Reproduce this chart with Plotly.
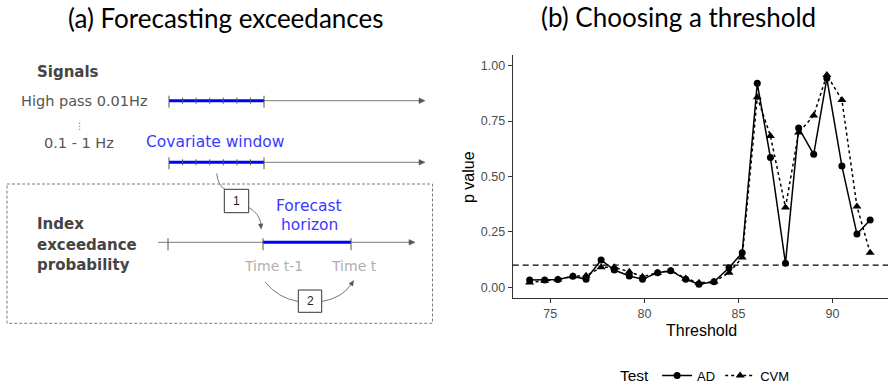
import math
import plotly.graph_objects as go

# ---------------- data (panel b) ----------------
thresholds = [73.9, 74.7, 75.4, 76.2, 76.9, 77.7, 78.4, 79.2, 79.9, 80.7, 81.4, 82.2, 82.9,
              83.7, 84.5, 85.2, 86.0, 86.7, 87.5, 88.2, 89.0, 89.7, 90.5, 91.3, 92.0]
p_ad = [0.033, 0.033, 0.035, 0.050, 0.036, 0.123, 0.078, 0.051, 0.036, 0.066, 0.075, 0.036, 0.014,
        0.025, 0.088, 0.156, 0.920, 0.585, 0.108, 0.719, 0.600, 0.943, 0.547, 0.240, 0.304]
p_cvm = [0.022, 0.030, 0.035, 0.050, 0.052, 0.090, 0.090, 0.070, 0.048, 0.066, 0.075, 0.040, 0.020,
         0.025, 0.066, 0.134, 0.857, 0.683, 0.360, 0.698, 0.775, 0.958, 0.845, 0.364, 0.156]
alpha_level = 0.10
x_ticks = [75, 80, 85, 90]
y_ticks = [0.0, 0.25, 0.5, 0.75, 1.0]
y_tick_labels = ["0.00", "0.25", "0.50", "0.75", "1.00"]

TITLE_FONT = "Lato"
DIAG_FONT = "DejaVu Sans"
AX_FONT = "Liberation Sans"
GREY = "#7a7a7a"
BLUE = "#0000ff"
TXT_BLUE = "#3a3aff"

fig = go.Figure()

fig.add_trace(go.Scatter(
    x=thresholds, y=p_ad, name="AD", mode="lines+markers",
    line=dict(color="black", width=1.5),
    marker=dict(symbol="circle", size=7, color="black"),
    xaxis="x", yaxis="y"))
fig.add_trace(go.Scatter(
    x=thresholds, y=p_cvm, name="CVM", mode="lines+markers",
    line=dict(color="black", width=1.5, dash="3px,3px"),
    marker=dict(symbol="triangle-up", size=8, color="black"),
    xaxis="x", yaxis="y"))

shapes = []
annotations = []

# threshold reference line
shapes.append(dict(type="line", xref="x domain", yref="y", x0=0, x1=1,
                   y0=alpha_level, y1=alpha_level,
                   line=dict(color="black", width=1.3, dash="6px,4px")))

# ---------------- diagram (panel a), drawn in pixel-like hidden axes ----------------
def dline(x0, y0, x1, y1, color=GREY, width=1, dash=None):
    ln = dict(color=color, width=width)
    if dash:
        ln["dash"] = dash
    shapes.append(dict(type="line", xref="x2", yref="y2", x0=x0, y0=y0, x1=x1, y1=y1,
                       line=ln, layer="above"))

def dpath(path, color=GREY, width=1, fill=None):
    s = dict(type="path", xref="x2", yref="y2", path=path,
             line=dict(color=color, width=width), layer="above")
    if fill:
        s["fillcolor"] = fill
    shapes.append(s)

def arrowhead(x, y, dx, dy, size=5, color="#555"):
    n = math.hypot(dx, dy)
    ux, uy = dx / n, dy / n
    px, py = -uy, ux
    bx, by = x - ux * size, y - uy * size
    w = size * 0.45
    dpath(f"M {x},{y} L {bx + px * w},{by + py * w} L {bx - px * w},{by - py * w} Z",
          color=color, width=0.5, fill=color)

def dtext(x, y, text, size=14, color="#555", xanchor="center", bold=False, font=DIAG_FONT):
    if bold:
        text = "<b>" + text + "</b>"
    annotations.append(dict(xref="x2", yref="y2", x=x, y=y, text=text, showarrow=False,
                            xanchor=xanchor, yanchor="middle", borderpad=0,
                            font=dict(family=font, size=size, color=color)))

# signal lines with covariate windows
for yy in (100.7, 162.3):
    dline(169, yy, 420, yy, width=1)
    arrowhead(425, yy, 1, 0, size=6)
    dline(169, yy, 264, yy, color=BLUE, width=3)
    for k in range(1, 7):
        xx = 169 + k * (264 - 169) / 7
        dline(xx, yy - 3, xx, yy + 3, color="#555", width=1)
    for xx in (169, 264):
        dline(xx, yy - 5, xx, yy + 7, color="#555", width=1)

# dashed box
shapes.append(dict(type="rect", xref="x2", yref="y2", x0=7, y0=184, x1=432.5, y1=323.3,
                   line=dict(color=GREY, width=1, dash="3px,2px")))

# index line
yy3 = 242.3
dline(158, yy3, 410, yy3, width=1)
arrowhead(415, yy3, 1, 0, size=6)
dline(263, yy3, 351, yy3, color=BLUE, width=3)
for xx in (168, 263, 351):
    dline(xx, yy3 - 4, xx, yy3 + 8, color="#555", width=1)

# curved connector 1
dpath("M 216.7,173.5 Q 218,186 226,190", color=GREY, width=1)
dpath("M 248.7,207.5 Q 259,213 261,224", color=GREY, width=1)
arrowhead(261.2, 229, 0.1, 1, size=5)
shapes.append(dict(type="rect", xref="x2", yref="y2", x0=224.3, y0=189.3, x1=248.7, y1=212.7,
                   line=dict(color="#333", width=1), fillcolor="white", layer="above"))
dtext(236.5, 201, "1", size=12, color="#222", font=AX_FONT)

# curved connector 2
dpath("M 265,282 Q 278,298 298.3,301.5", color=GREY, width=1)
dpath("M 321.7,301.5 Q 342,298 350.5,285", color=GREY, width=1)
arrowhead(353.5, 280.5, 0.6, -1, size=5)
shapes.append(dict(type="rect", xref="x2", yref="y2", x0=298.3, y0=290, x1=321.7, y1=312.3,
                   line=dict(color="#333", width=1), fillcolor="white", layer="above"))
dtext(310, 301, "2", size=12, color="#222", font=AX_FONT)

# diagram texts
dtext(36, 72, "Signals", size=15, color="#444", xanchor="left", bold=True)
dtext(149, 100.5, "High pass 0.01Hz", size=14.5, color="#555", xanchor="right")
dtext(79, 126, "⋮", size=9, color="#777")
dtext(115, 143, "0.1 - 1 Hz", size=14.5, color="#555", xanchor="right")
dtext(145, 142, "Covariate window", size=15.5, color=TXT_BLUE, xanchor="left")
dtext(309, 206, "Forecast", size=15.5, color=TXT_BLUE)
dtext(309, 225, "horizon", size=15.5, color=TXT_BLUE)
dtext(36, 224, "Index", size=15, color="#444", xanchor="left", bold=True)
dtext(36, 244.5, "exceedance", size=15, color="#444", xanchor="left", bold=True)
dtext(36, 265, "probability", size=15, color="#444", xanchor="left", bold=True)
dtext(273, 265.5, "Time t-1", size=14, color="#b0b0b0")
dtext(354, 265.5, "Time t", size=14, color="#b0b0b0")

# panel titles
annotations.append(dict(xref="paper", yref="paper", x=226 / 888, y=1 - 18 / 386,
                        text="(a) Forecasting exceedances", showarrow=False,
                        xanchor="center", yanchor="middle",
                        font=dict(family=TITLE_FONT, size=26, color="black")))
annotations.append(dict(xref="paper", yref="paper", x=678 / 888, y=1 - 17 / 386,
                        text="(b) Choosing a threshold", showarrow=False,
                        xanchor="center", yanchor="middle",
                        font=dict(family=TITLE_FONT, size=26, color="black")))

# axis titles of panel b
annotations.append(dict(xref="paper", yref="paper", x=701 / 888, y=1 - 330 / 386,
                        text="Threshold", showarrow=False, xanchor="center", yanchor="middle",
                        font=dict(family=AX_FONT, size=16, color="black")))
annotations.append(dict(xref="paper", yref="paper", x=468 / 888, y=1 - 177 / 386,
                        text="p value", showarrow=False, xanchor="center", yanchor="middle",
                        textangle=-90,
                        font=dict(family=AX_FONT, size=16, color="black")))

fig.update_layout(
    width=888, height=386,
    margin=dict(l=0, r=0, t=0, b=0, autoexpand=False),
    paper_bgcolor="white", plot_bgcolor="white",
    shapes=shapes, annotations=annotations,
    xaxis=dict(domain=[512.7 / 888, 1.0], range=[73.0, 92.95], automargin=False,
               tickvals=x_ticks, ticks="outside", ticklen=4, tickcolor="#333",
               showline=True, linecolor="#333", linewidth=1.2, showgrid=False, zeroline=False,
               tickfont=dict(family=AX_FONT, size=12.5, color="#4d4d4d")),
    yaxis=dict(domain=[1 - 297.7 / 386, 1 - 55 / 386], range=[-0.047, 1.048], automargin=False,
               tickvals=y_ticks, ticktext=y_tick_labels, ticks="outside", ticklen=4,
               tickcolor="#333", showline=True, linecolor="#333", linewidth=1.2,
               showgrid=False, zeroline=False,
               tickfont=dict(family=AX_FONT, size=12.5, color="#4d4d4d")),
    xaxis2=dict(domain=[0, 0.5], range=[0, 444], visible=False, fixedrange=True),
    yaxis2=dict(domain=[0, 1], range=[386, 0], visible=False, fixedrange=True, anchor="x2"),
    showlegend=True,
    legend=dict(orientation="h", x=618 / 888, y=1 - 376 / 386, xanchor="left",
                yanchor="middle", itemwidth=30,
                title=dict(text="Test", side="left",
                           font=dict(family=AX_FONT, size=15.5, color="black")),
                font=dict(family=AX_FONT, size=13, color="black")),
)

fig.write_html("out.html")
